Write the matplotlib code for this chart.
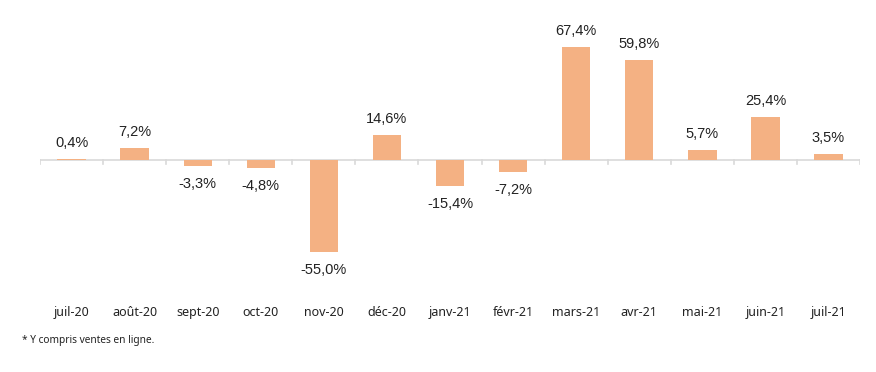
import matplotlib
matplotlib.use("Agg")
import matplotlib.pyplot as plt
from matplotlib.transforms import blended_transform_factory

months = ["juil-20", "août-20", "sept-20", "oct-20", "nov-20", "déc-20", "janv-21",
          "févr-21", "mars-21", "avr-21", "mai-21", "juin-21", "juil-21"]
values = [0.4, 7.2, -3.3, -4.8, -55.0, 14.6, -15.4, -7.2, 67.4, 59.8, 5.7, 25.4, 3.5]
labels = ["0,4%", "7,2%", "-3,3%", "-4,8%", "-55,0%", "14,6%", "-15,4%",
          "-7,2%", "67,4%", "59,8%", "5,7%", "25,4%", "3,5%"]
footnote = "* Y compris ventes en ligne."

bar_color = "#F4B183"
axis_color = "#D9D9D9"

fig = plt.figure(figsize=(8.76, 3.72), dpi=100)
ax = fig.add_axes([40 / 876, 72 / 372, 820 / 876, 270 / 372])

x = list(range(len(months)))
ax.bar(x, values, width=0.45, color=bar_color, zorder=2)

ax.set_xlim(-0.5, len(months) - 0.5)
ax.set_ylim(-83.5, 77.5)

# zero line with small category ticks
ax.axhline(0, color=axis_color, lw=1.2, zorder=1)
for b in range(len(months) + 1):
    ax.plot([b - 0.5, b - 0.5], [0, -2.5], color=axis_color, lw=1.2, zorder=1)

# data labels
for xi, v, lab in zip(x, values, labels):
    if v >= 0:
        ax.annotate(lab, (xi, v), xytext=(0, 6.5), textcoords="offset points",
                    ha="center", va="bottom", fontsize=10.5, family="Liberation Sans",
                    color="#222222")
    else:
        ax.annotate(lab, (xi, v), xytext=(0, -8), textcoords="offset points",
                    ha="center", va="top", fontsize=10.5, family="Liberation Sans",
                    color="#222222")

# category labels at the bottom
trans = blended_transform_factory(ax.transData, ax.transAxes)
for xi, m in zip(x, months):
    ax.text(xi, -0.045, m, transform=trans, ha="center", va="center",
            fontsize=9, family="Noto Sans", color="#222222")

ax.axis("off")

fig.text(22 / 876, 1 - 341 / 372, footnote, ha="left", va="center",
         fontsize=7.3, family="Noto Sans", color="#222222")

fig.savefig("out.png", dpi=100)
